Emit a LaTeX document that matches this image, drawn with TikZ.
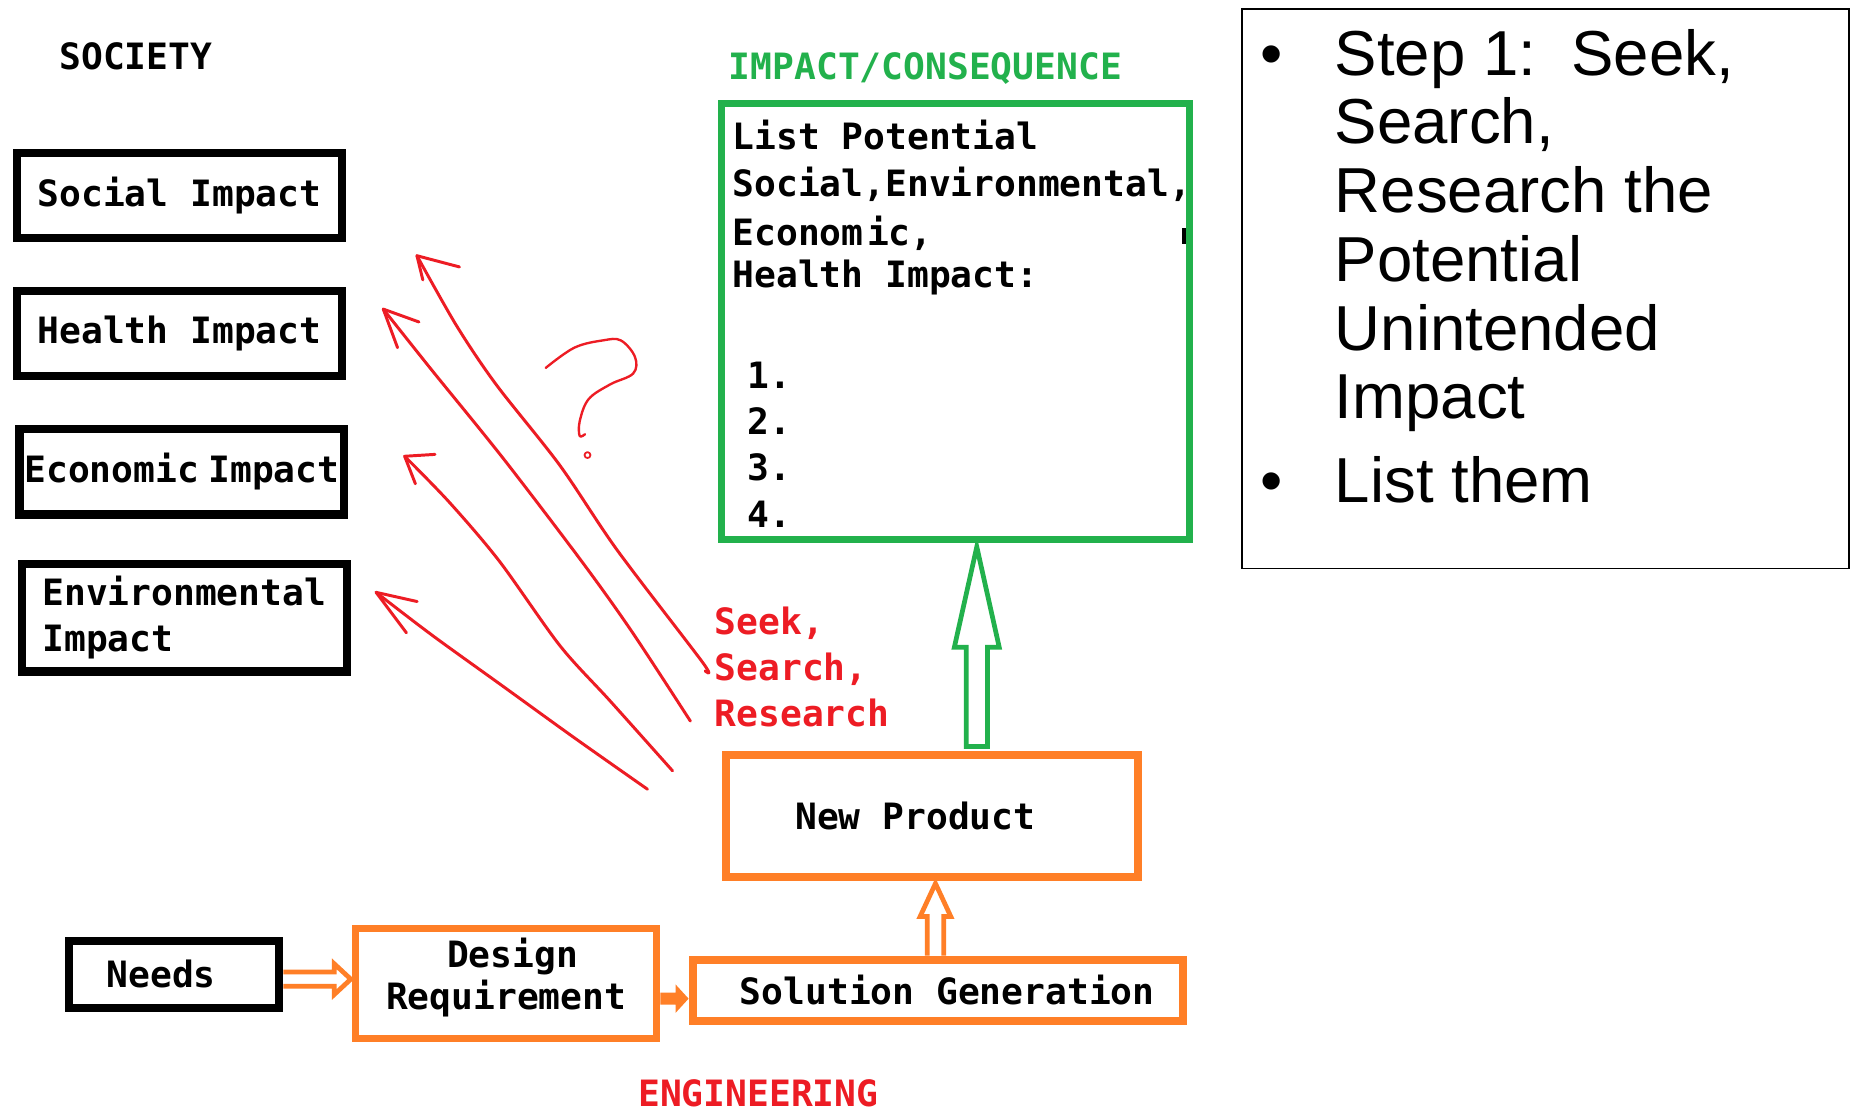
\documentclass[tikz,border=0pt]{standalone}
\usepackage{fontspec}
\usetikzlibrary{calc}
\newfontfamily\monof{DejaVu Sans Mono}
\newfontfamily\arialf{Liberation Sans}
\definecolor{pgreen}{RGB}{34,177,76}
\definecolor{porange}{RGB}{255,127,39}
\definecolor{pred}{RGB}{237,28,36}

\begin{document}
\begin{tikzpicture}[x=1pt,y=-1pt,
  mono/.style={inner sep=0pt, font={\monof\bfseries\fontsize{30.7pt}{39pt}\selectfont}},
  sans/.style={inner sep=0pt, font={\arialf\fontsize{53.8pt}{58.2pt}\selectfont}},
  sbox/.style={mono, draw=black, line width=7pt, minimum width=275pt, minimum height=72pt},
  obox/.style={mono, draw=porange, line width=7pt},
  hollow/.style={line width=4pt, fill=white, line join=miter},
  sketch/.style={draw=pred, line width=2.5pt, line cap=round, line join=round},
]
\fill[white] (0,0) rectangle (1568,942);
\useasboundingbox (0,0) rectangle (1568,942);

% society side
\node[mono] (society) at (115,48) {SOCIETY};
\node[sbox] (social) at (152,165.5) {Social Impact};
\node[sbox] (health) at (152,282.5) {Health Impact};
\node[sbox] (econ) at (154,399.5) {Economic\hspace{8pt}Impact};
\node[sbox, minimum height=91pt, align=left] (env) at (156,523) {Environmental\\Impact};

% impact list (multi-line nodes sit on the baseline of their last line)
\node[mono, text=pgreen] (impacttitle) at (783.5,58) {IMPACT/CONSEQUENCE};
\node[draw=pgreen, line width=6pt, minimum width=396pt, minimum height=369pt] (impact) at (809,272.5) {};
\node[mono, anchor=base west, align=left] (impactlist) at (620,243.2)
  {List Potential\\[1pt]Social,Environmental,\\[3pt]Econom\hspace{3pt}ic,\\[-4pt]Health Impact:};
\node[mono, anchor=base west, align=left] (numbers) at (633,446.2) {1.\\2.\\3.\\4.};
\fill (1001,193) rectangle (1004,207);

% engineering chain
\node[mono, draw=black, line width=7pt, minimum width=178pt, minimum height=57pt] (needs) at (147.5,825) {Needs\kern22pt};
\node[obox, line width=6pt, minimum width=255pt, minimum height=93pt,
  label={[mono, align=center, yshift=5pt, name=drtext]center:{\kern11pt Design\\[-4pt]Requirement}}] (dr) at (428.5,832.5) {};
\node[obox, minimum width=415pt, minimum height=52pt] (sol) at (794,838.5) {\kern16pt Solution Generation};
\node[obox, minimum width=349pt, minimum height=103pt] (np) at (789,691) {New Product\kern28pt};
\node[mono, text=pred] (eng) at (642,926) {ENGINEERING};
\node[mono, text=pred, anchor=base west, align=left] (seek) at (605,615.2) {Seek,\\Search,\\Research};

% needs -> design requirement
\coordinate (na) at ($(needs.east)+(0,4)$);
\coordinate (nb) at (dr.west |- na);
\draw[hollow, draw=porange] ($(na)+(0,-6)$) -- ($(nb)+(-15,-6)$) -- ($(nb)+(-15,-13)$) -- ($(nb)+(-1,0)$)
  -- ($(nb)+(-15,13)$) -- ($(nb)+(-15,6)$) -- ($(na)+(0,6)$);

% design requirement -> solution generation
\coordinate (da) at ($(dr.east)+(0,13)$);
\coordinate (db) at (sol.west |- da);
\fill[porange] ($(da)+(0,-5)$) -- ($(db)+(-11,-5)$) -- ($(db)+(-11,-12)$) -- (db)
  -- ($(db)+(-11,12)$) -- ($(db)+(-11,5)$) -- ($(da)+(0,5)$) -- cycle;

% solution generation -> new product
\coordinate (sa) at ($(sol.north)+(-2,0)$);
\coordinate (sb) at (sa |- np.south);
\draw[hollow, draw=porange] ($(sa)+(-7,0)$) -- ($(sb)+(-7,30)$) -- ($(sb)+(-13,30)$) -- ($(sb)+(0,2)$)
  -- ($(sb)+(13,30)$) -- ($(sb)+(7,30)$) -- ($(sa)+(7,0)$);

% new product -> impact list
\coordinate (ga) at ($(np.north)+(38,0)$);
\coordinate (gb) at (ga |- impact.south);
\draw[hollow, draw=pgreen] ($(ga)+(-9,-4)$) -- ($(gb)+(-9,88)$) -- ($(gb)+(-19,88)$) -- ($(gb)+(0,3)$)
  -- ($(gb)+(19,88)$) -- ($(gb)+(9,88)$) -- ($(ga)+(9,-4)$) -- cycle;

% hand-drawn research arrows
\coordinate (r1s) at (597,568);   \coordinate (r1t) at (353,216.5);
\coordinate (r2s) at (584.5,610.5); \coordinate (r2t) at (324.5,261.7);
\coordinate (r3s) at (569.4,652.6); \coordinate (r3t) at (342.6,386.3);
\coordinate (r4s) at (548.2,668.2); \coordinate (r4t) at (318.4,501.5);
\draw[sketch] plot[smooth, tension=0.5] coordinates {(r1s) (595,561) (522.5,465.7) (474,394) (420,325.5) (386.5,275.7) (r1t)};
\draw[sketch] (389,226) -- (r1t) -- (358,237);
\draw[sketch] plot[smooth, tension=0.5] coordinates {(r2s) (534.6,534.2) (492.3,475) (425.8,387.8) (365.3,313) (r2t)};
\draw[sketch] (354.7,272.6) -- (r2t) -- (336.6,294.4);
\draw[sketch] plot[smooth, tension=0.5] coordinates {(r3s) (516.5,593.4) (474.1,546.7) (422.7,475) (380.4,425.2) (r3t)};
\draw[sketch] (368.3,384.7) -- (r3t) -- (351.7,409.6);
\draw[sketch] plot[smooth, tension=0.5] coordinates {(r4s) (486.2,624.6) (425.8,581) (365.3,537.4) (r4t)};
\draw[sketch] (353.2,509.3) -- (r4t) -- (344.1,535.8);

% question mark
\draw[sketch, line width=2pt] plot[smooth, tension=0.6] coordinates {(462,311.5) (486.2,294.4) (510.4,288.2) (525.6,288.2) (537.6,302.2) (536.1,316.2) (516.5,325.5) (498.3,338) (490.8,356.7) (490.8,369.1) (495.3,367.6)};
\draw[sketch, line width=1.5pt] (497.4,385.3) circle (2.5);

% step description
\node[draw=black, line width=1.5pt, minimum width=513.5pt, minimum height=473.5pt] (steps) at (1308.5,244.5) {};
\node[sans, anchor=base] (bullet1) at (1077,63.6) {\textbullet};
\node[sans, anchor=base west, align=left] (steptext) at (1130,354.6)
  {Step 1:\ \ Seek,\\Search,\\Research the\\Potential\\Unintended\\Impact};
\node[sans, anchor=base] (bullet2) at (1077,425.6) {\textbullet};
\node[sans, anchor=base west] (listthem) at (1130,425.6) {List them};
\end{tikzpicture}
\end{document}
